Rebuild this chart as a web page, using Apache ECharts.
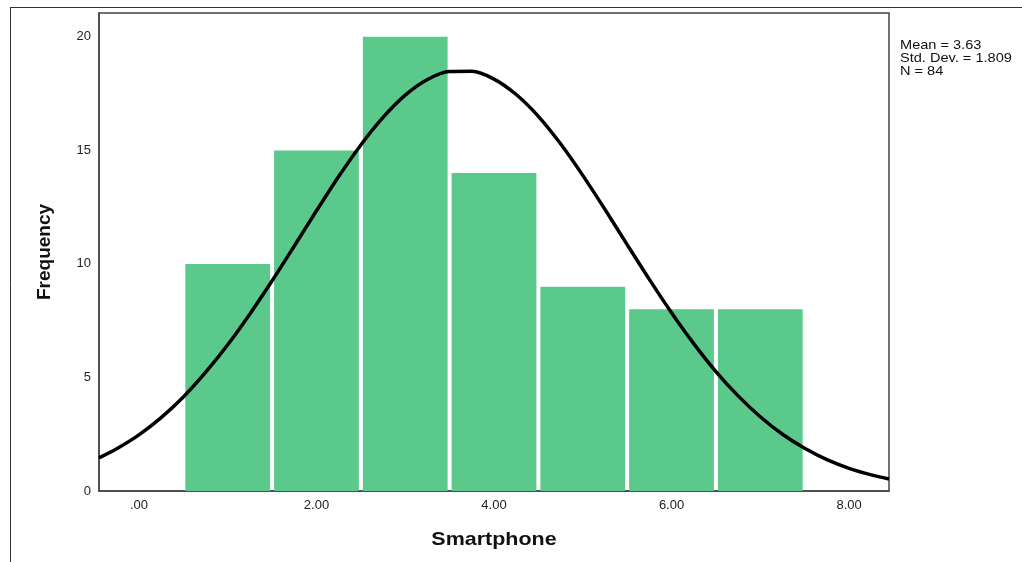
<!DOCTYPE html>
<html>
<head>
<meta charset="utf-8">
<script src="https://cdn.jsdelivr.net/npm/echarts@6/dist/echarts.min.js"></script>
<style>
html,body{margin:0;padding:0;background:#fff;}
#c{width:1022px;height:562px;}
</style>
</head>
<body>
<div id="c"></div>
<script>
// Histogram bins (bin centers) and frequencies
const binCenters = [1, 2, 3, 4, 5, 6, 7];
const frequencies = [10, 15, 20, 14, 9, 8, 8];
// Normal curve points
const curveX = [-0.45, -0.25, 0, 0.25, 0.5, 0.75, 1, 1.25, 1.5, 1.75, 2, 2.25, 2.5, 2.75, 3, 3.25, 3.5, 3.75, 4, 4.25, 4.5, 4.75, 5, 5.25, 5.5, 5.75, 6, 6.25, 6.5, 6.75, 7, 7.25, 7.5, 7.75, 8, 8.25, 8.45];
const curveY = [1.46, 1.86, 2.47, 3.23, 4.14, 5.22, 6.44, 7.8, 9.26, 10.79, 12.34, 13.85, 15.24, 16.45, 17.43, 18.12, 18.47, 18.48, 18.14, 17.46, 16.5, 15.29, 13.9, 12.4, 10.85, 9.32, 7.85, 6.49, 5.26, 4.19, 3.27, 2.5, 1.88, 1.38, 1.0, 0.71, 0.53];
const xTicks = [0, 2, 4, 6, 8];
const yTicks = [0, 5, 10, 15, 20];
const statsText = ['Mean = 3.63', 'Std. Dev. = 1.809', 'N = 84'];
const xTitle = 'Smartphone';
const yTitle = 'Frequency';

const chart = echarts.init(document.getElementById('c'), null, {renderer: 'canvas'});
const font = 'Liberation Sans, Arial, sans-serif';

const option = {
  backgroundColor: '#fff',
  animation: false,
  grid: {
    left: 99, right: 133, top: 13, bottom: 71,
    show: true, borderColor: '#444', borderWidth: 1.5, backgroundColor: 'transparent'
  },
  xAxis: {
    type: 'value', min: -0.45, max: 8.45,
    axisLine: {show: true, onZero: false, lineStyle: {color: '#444', width: 1.5}},
    axisTick: {show: false},
    splitLine: {show: false},
    axisLabel: {
      customValues: xTicks, margin: 8,
      fontFamily: font, fontSize: 13, color: '#222',
      formatter: v => v === 0 ? '.00' : v.toFixed(2)
    }
  },
  yAxis: {
    type: 'value', min: 0, max: 21.05,
    axisLine: {show: true, onZero: false, lineStyle: {color: '#444', width: 1.5}},
    axisTick: {show: false},
    splitLine: {show: false},
    axisLabel: {
      customValues: yTicks, margin: 8,
      fontFamily: font, fontSize: 13, color: '#222'
    }
  },
  series: [
    {
      type: 'custom',
      data: binCenters.map((c, i) => [c, frequencies[i]]),
      renderItem: function (params, api) {
        const c = api.value(0), f = api.value(1);
        const p0 = api.coord([c - 0.5, f]);
        const p1 = api.coord([c + 0.5, 0]);
        const gap = 2;
        return {
          type: 'rect',
          shape: {x: p0[0] + gap, y: p0[1], width: p1[0] - p0[0] - 2 * gap, height: p1[1] - p0[1]},
          style: {fill: '#5cc98c'}
        };
      },
      z: 2
    },
    {
      type: 'line',
      data: curveX.map((x, i) => [x, curveY[i]]),
      smooth: 0.3,
      showSymbol: false,
      lineStyle: {color: '#000', width: 3.5},
      z: 5
    }
  ],
  graphic: [
    {type: 'line', shape: {x1: 10, y1: 7.5, x2: 1022, y2: 7.5}, style: {stroke: '#333', lineWidth: 1}},
    {type: 'line', shape: {x1: 10.5, y1: 7, x2: 10.5, y2: 562}, style: {stroke: '#333', lineWidth: 1}},
    {
      type: 'text', x: 900, y: 39.5, scaleX: 1.12,
      style: {text: statsText.join('\n'), fontFamily: font, fontSize: 13, lineHeight: 12.8, fill: '#111', textVerticalAlign: 'top'}
    },
    {
      type: 'text', x: 494, y: 540, scaleX: 1.13,
      style: {text: xTitle, fontFamily: font, fontSize: 19, fontWeight: 'bold', fill: '#111', textAlign: 'center', textVerticalAlign: 'middle'}
    },
    {
      type: 'text', x: 45, y: 252, rotation: Math.PI / 2,
      style: {text: yTitle, fontFamily: font, fontSize: 19, fontWeight: 'bold', fill: '#111', textAlign: 'center', textVerticalAlign: 'middle'}
    }
  ]
};
chart.setOption(option);
</script>
</body>
</html>
